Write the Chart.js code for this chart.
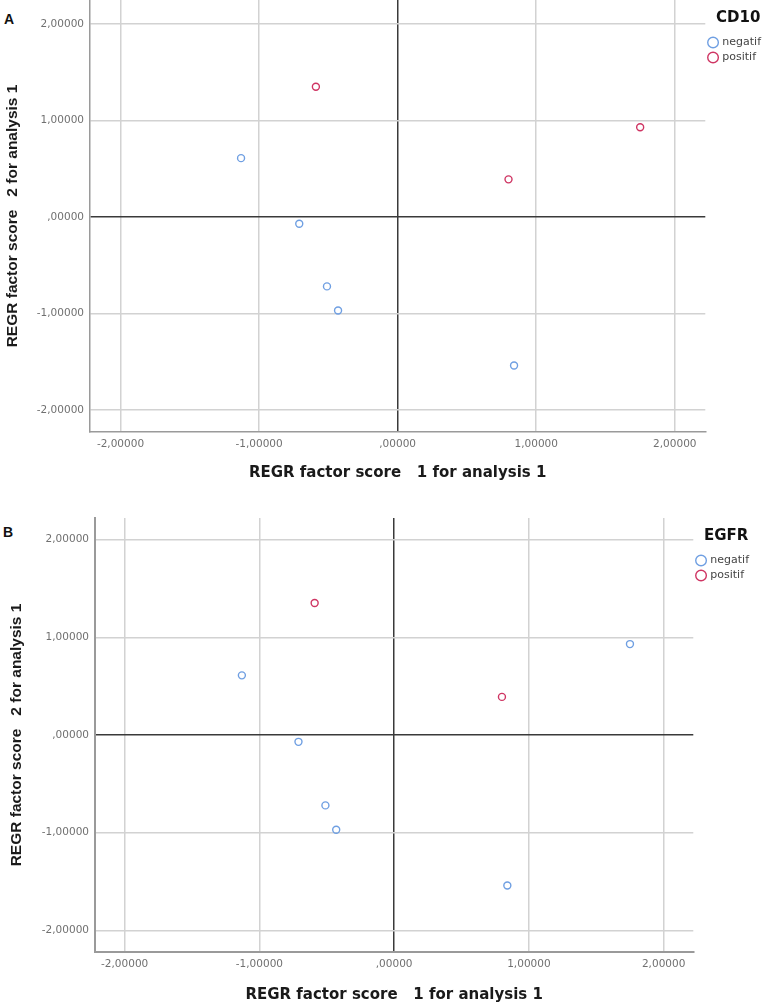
<!DOCTYPE html>
<html>
<head>
<meta charset="utf-8">
<script src="https://cdn.jsdelivr.net/npm/chart.js@4"></script>
<style>
  html, body { margin: 0; background: #fff; overflow: hidden; font-family: 'Liberation Sans', Arial, sans-serif; }
  .panel { position: absolute; left: 0; width: 770px; }
  .tag { position: absolute; font-weight: bold; font-size: 14px; color: #111; }
</style>
</head>
<body>
<div class="tag" style="left:4px;top:11px">A</div>
<div class="tag" style="left:3px;top:524px">B</div>
<div class="panel" style="top:-13px;height:503px"><canvas id="chartA"></canvas></div>
<div class="panel" style="top:500px;height:510px"><canvas id="chartB"></canvas></div>
<script>
// factor scores per case (same 8 cases in both plots)
const xScores = [-0.59, -1.13, -0.71, -0.51, -0.43, 0.84, 0.80, 1.75];
const yScores = [1.35, 0.61, -0.07, -0.72, -0.97, -1.54, 0.39, 0.93];
const cd10Status = ['positif', 'negatif', 'negatif', 'negatif', 'negatif', 'negatif', 'positif', 'positif'];
const egfrStatus = ['positif', 'negatif', 'negatif', 'negatif', 'negatif', 'negatif', 'positif', 'negatif'];
const groups = ['negatif', 'positif'];
const groupColors = ['#6f9fe2', '#cf3563'];
const tickValues = [-2, -1, 0, 1, 2];

// SPSS style labels: 1,00000  ,00000  -2,00000
function spss(v) {
  let s = Math.abs(v).toFixed(5).replace('.', ',');
  if (s.startsWith('0')) s = s.slice(1);
  return (v < 0 ? '-' : '') + s;
}

function pointsFor(status, g) {
  const pts = [];
  for (let i = 0; i < xScores.length; i++) {
    if (status[i] === g) pts.push({ x: xScores[i], y: yScores[i] });
  }
  return pts;
}

// bottom title is placed with padding.bottom, left title with padding.top
function axis(range, title, titleFont, titlePad, borderW, afterFit) {
  return {
    type: 'linear',
    min: range[0],
    max: range[1],
    ticks: {
      stepSize: 1,
      callback: v => spss(v),
      font: { size: 10.5, family: 'DejaVu Sans' },
      color: '#707070',
      padding: 6
    },
    afterBuildTicks: s => {
      s.ticks = tickValues.map(v => ({ value: v }));
    },
    grid: {
      drawTicks: false,
      color: c => (c.tick && c.tick.value === 0 ? '#3a3a3a' : '#d2d2d2'),
      lineWidth: 1.5
    },
    border: { display: true, color: '#9a9a9a', width: borderW },
    title: {
      display: true,
      text: title,
      font: titleFont,
      color: '#1a1a1a',
      padding: titlePad
    },
    afterFit: afterFit
  };
}

function makeChart(id, legendTitle, status, cfg) {
  const datasets = groups.map((g, k) => ({
    label: g,
    data: pointsFor(status, g),
    borderColor: groupColors[k],
    backgroundColor: 'transparent',
    pointRadius: 3.5,
    pointBorderWidth: 1.4,
    borderWidth: 1.5,
    pointStyle: 'circle'
  }));
  return new Chart(document.getElementById(id), {
    type: 'scatter',
    data: { datasets: datasets },
    options: {
      responsive: true,
      maintainAspectRatio: false,
      animation: false,
      layout: { autoPadding: false, padding: cfg.padding },
      scales: {
        x: axis(cfg.xRange, 'REGR factor score   1 for analysis 1',
          { size: 15, weight: 'bold', family: 'DejaVu Sans' },
          { top: 0, bottom: cfg.xTitlePad }, cfg.border,
          s => { s.height = cfg.xHeight; }),
        y: axis(cfg.yRange, 'REGR factor score   2 for analysis 1',
          { size: 15.5, weight: 'bold', family: 'Liberation Sans' },
          { top: cfg.yTitlePad, bottom: 0 }, cfg.border,
          s => { s.width = cfg.yWidth; })
      },
      plugins: {
        legend: {
          position: 'right',
          align: 'start',
          labels: {
            usePointStyle: true,
            boxWidth: 7.5,
            boxHeight: 7.5,
            padding: 4,
            font: { size: 11, family: 'DejaVu Sans' },
            color: '#444'
          },
          title: {
            display: true,
            text: legendTitle,
            position: 'center',
            font: { size: 15, weight: 'bold', family: 'DejaVu Sans' },
            color: '#111',
            padding: { top: 11, bottom: 4 }
          }
        },
        tooltip: { enabled: false }
      }
    }
  });
}

makeChart('chartA', 'CD10', cd10Status, {
  xRange: [-2.22, 2.22], yRange: [-2.23, 2.25],
  padding: { top: 13, right: -1, left: 0, bottom: 0 },
  xHeight: 58, yWidth: 90, xTitlePad: 8, yTitlePad: 3, border: 1.5
});
makeChart('chartB', 'EGFR', egfrStatus, {
  xRange: [-2.22, 2.22], yRange: [-2.22, 2.22],
  padding: { top: 18, right: 11, left: 0, bottom: 0 },
  xHeight: 58, yWidth: 95, xTitlePad: 6, yTitlePad: 7, border: 2
});
</script>
</body>
</html>
